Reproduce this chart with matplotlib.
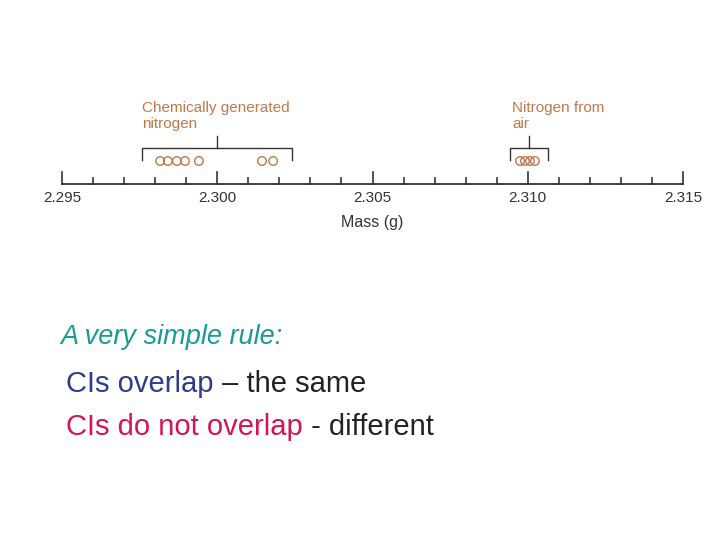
import matplotlib.pyplot as plt
import numpy as np

chem_mass = [2.29816, 2.29841, 2.29870, 2.29896, 2.29941, 2.30144, 2.30180]
air_mass = [2.30975, 2.30991, 2.31007, 2.31023]
major_ticks = [2.295, 2.300, 2.305, 2.310, 2.315]
minor_ticks = np.round(np.arange(2.295, 2.3151, 0.001), 3)

orange = '#c0784a'
px = 0.001 / 31.05
x0 = 2.295 - 62 * px

fig = plt.figure(figsize=(7.2, 5.4), dpi=100)
ax = fig.add_axes([0, 0, 1, 1])
ax.set_xlim(x0, x0 + 720 * px)
ax.set_ylim(540, 0)
ax.axis('off')

ya = 184
ax.plot([2.295, 2.315], [ya, ya], color='#333333', lw=1.3)
for t in minor_ticks:
    h = 12 if any(abs(t - m) < 1e-6 for m in major_ticks) else 6
    ax.plot([t, t], [ya, ya - h], color='#333333', lw=1.2)
for m in major_ticks:
    ax.text(m, 198, f'{m:.3f}', ha='center', va='center', fontsize=11, color='#333333',
            family='Liberation Sans')
ax.text(2.305, 222, 'Mass (g)', ha='center', va='center', fontsize=11.5, color='#333333',
        family='Liberation Sans')

ax.scatter(chem_mass, [161] * len(chem_mass), s=38, facecolors='none', edgecolors=orange, lw=1)
ax.scatter(air_mass, [161] * len(air_mass), s=38, facecolors='none', edgecolors=orange, lw=1)

def bracket(lo, hi, mid):
    ax.plot([lo, lo, hi, hi], [160, 148, 148, 160], color='#333333', lw=1)
    ax.plot([mid, mid], [148, 136], color='#333333', lw=1)

bracket(2.29758, 2.30241, 2.29999)
bracket(2.30943, 2.31065, 2.31004)

ax.text(2.29758, 116, 'Chemically generated\nnitrogen', ha='left', va='center',
        fontsize=11, color=orange, linespacing=1.2, family='Liberation Sans')
ax.text(2.3095, 116, 'Nitrogen from\nair', ha='left', va='center',
        fontsize=11, color=orange, linespacing=1.2, family='Liberation Sans')

fig.canvas.draw()
renderer = fig.canvas.get_renderer()

def line(x, y, parts, size, **kw):
    # put coloured pieces one after another in pixel coordinates
    for s, c in parts:
        t = fig.text(x / 720, 1 - y / 540, s, fontsize=size, color=c, va='center',
                     family='Liberation Sans', **kw)
        x += t.get_window_extent(renderer).width

line(60, 337, [('A very simple rule:', '#1a9a96')], 19.5, style='italic')
line(66, 384, [('CIs overlap', '#2e3b8f'), (' – the same', '#222222')], 21)
line(66, 427, [('CIs do not overlap', '#d4145a'), (' - different', '#222222')], 21)

fig.savefig('out.png', dpi=100)
